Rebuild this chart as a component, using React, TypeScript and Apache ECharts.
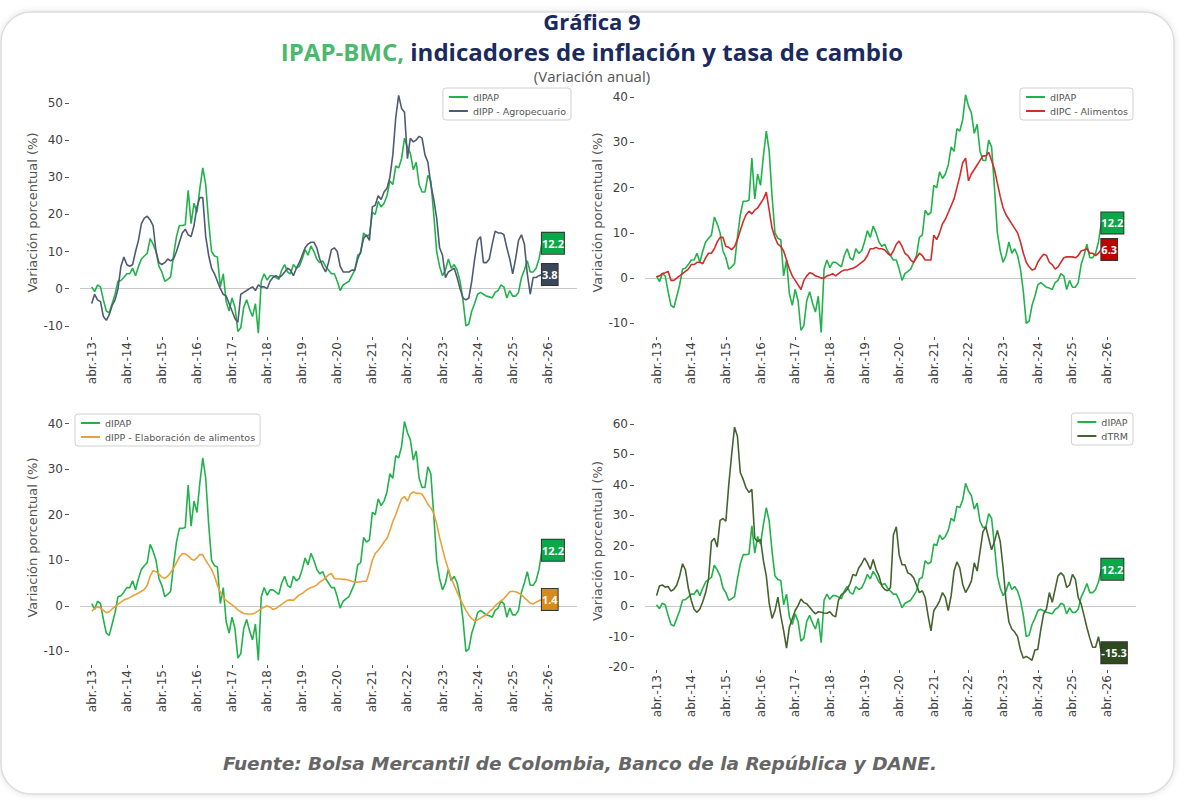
import React, { useEffect, useRef } from 'react';
import * as echarts from 'echarts';

// Monthly data: Apr 2013 ... Feb 2026 (155 points)
const X_TICK_LABELS = ['abr.-13','abr.-14','abr.-15','abr.-16','abr.-17','abr.-18','abr.-19','abr.-20','abr.-21','abr.-22','abr.-23','abr.-24','abr.-25','abr.-26'];
const X_TICK_POS = X_TICK_LABELS.map((_, i) => i * 12);

const DIPAP = [
  0.5, -0.8, 1.0, 0.5, -3, -6, -6.5, -4, -1.5,
  2, 2.2, 3, 4, 4, 5.5, 3.5, 6, 8, 8.8, 9.5, 13.5,
  12, 10, 6, 4.5, 2, 2.5, 3.2, 9, 14, 17, 17, 17.2,
  26.5, 17.5, 23, 20.5, 27, 32.5, 28, 18, 10, 8.8, 8.5, 0.5,
  4, -3.5, -6, -2.5, -5, -11.5, -10.5, -5, -3, -5.5, -7.5, -4,
  -12, 2, 4, 2.3, 3.5, 3.5, 3, 2.5, 5, 6.5, 4.5, 4,
  6.5, 5.5, 6, 8, 10.5, 9, 11.5, 10, 8, 7, 7.5, 6,
  5, 4, 4, 2, -0.5, 1, 1.5, 2, 3.5, 5, 9, 9.5,
  15, 14, 14.5, 20.5, 20, 23.5, 22, 23, 25, 29, 28, 33,
  32.5, 35, 40.5, 38, 36.5, 32, 34, 28, 26, 26, 30.5, 29,
  20, 10, 6, 3.5, 5, 8, 5.5, 6.5, 5, 2, -3, -10,
  -9.5, -6, -4, -1.5, -1, -1.5, -2, -2.2, -2.5, -1, -0.5, 1,
  0.5, -2.5, -0.5, -2, -2, -1, 3, 5, 7.5, 4.5, 4.5, 5.5,
  8, 12.2
];

const DIPP_AGRO = [
  -4, -1.5, -3, -3.5, -7.5, -8.5, -7, -4.5, -3,
  0, 6, 8.5, 6.5, 6, 6.5, 10, 13, 17.5, 19, 19.5, 18.5,
  17, 10, 7, 6.5, 7, 8, 7.5, 8, 10, 12.5, 15, 16,
  14.5, 14, 17, 22, 24.5, 24.5, 14, 9, 5.5, 4, 2, 0,
  -1.5, -2, -4, -6, -8, -9, -1.5, -1, -0.5, 0, 0.5, -0.5,
  1, 0.5, 0.5, 0, 2, 3, 3.5, 3, 3.5, 4.5, 5.5, 5,
  3.5, 5.5, 7, 9, 11, 12, 12.5, 12.5, 11, 8, 6, 4.5,
  7, 10.5, 11, 10, 6, 4.5, 4.5, 4.5, 5, 5, 8, 10,
  13.5, 14.5, 13, 22, 22.5, 25, 24, 26, 27, 30, 36, 46,
  52, 48.5, 47.5, 35, 40.5, 39.5, 40, 41, 40.5, 36, 34, 28,
  24, 19, 11, 9, 3, 4.5, 5, 5.5, 3, 0, -2.5, -3,
  -2.5, 2, 8, 13, 14, 7, 7, 8, 12, 15.5, 15, 15,
  14.5, 11, 8, 4, 8, 13, 14.5, 12, 4, -1.5, 3, 3,
  3.5, 3.8
];

const DIPC_ALIM = [
  0.3, 0.5, 1, 1.2, 1.5, -0.5, -0.5, 0, 0.5,
  1, 1.5, 2, 3, 3, 3.5, 3.5, 3.2, 4.5, 5.5, 5.5, 6.5,
  8, 9, 9, 7, 6.8, 6.3, 7, 8.5, 10.5, 12.5, 14, 14.8,
  14.2, 15, 15.5, 16.5, 17.5, 19, 15, 11, 9, 7.5, 7, 6,
  4, 2, 0.5, -0.5, -1.5, -2.5, -0.5, 0.5, 1.2, 1, 0.5, 0.3,
  0, 0, 0.5, 0.7, 1, 0.5, 1, 1.5, 1.8, 1.8, 2, 2.2,
  2.5, 3, 3.5, 4, 5, 6.5, 6.5, 6.8, 6.5, 6.5, 6.2, 5.5,
  5, 6, 7.5, 8.2, 7, 5.5, 5, 4, 3.5, 4.5, 5.5, 5,
  4, 4, 4, 9.5, 8.5, 10, 12, 13, 14.5, 16, 17.5, 20,
  22.5, 25.5, 26.5, 21.5, 23, 24, 25, 26, 27, 27, 27.8, 26,
  24, 21, 18, 15.5, 14, 13, 12, 11, 10, 8, 5.5, 3.5,
  2.5, 1.8, 2, 3.5, 4.5, 5.3, 5, 3.5, 3, 2, 2.5, 3.5,
  4.5, 4.7, 4.7, 4.7, 4.5, 5, 6, 6.2, 6.5, 5.5, 5.5, 5,
  5.5, 6.3
];

const DIPP_ELAB = [
  -1.2, -0.6, -0.2, -0.5, -1.0, -1.5, -1.3, -0.7, -0.2,
  0.3, 0.8, 1.3, 1.5, 1.8, 2.2, 2.5, 2.8, 3.2, 3.6, 4.5, 6.5,
  7.7, 7.5, 7, 6.3, 6, 6.5, 7.3, 8.3, 9.5, 10.7, 11.5, 11.4,
  11, 10.3, 10, 10.5, 11.3, 11.2, 10, 9, 8, 6.5, 4.5, 3,
  1.8, 1.2, 0.7, 0.2, -0.3, -0.9, -1.3, -1.7, -1.8, -1.8, -1.8, -1.5,
  -1.1, -0.6, -0.3, 0, -0.3, -0.8, -0.6, -0.1, 0.3, 0.8, 1.2, 1.3,
  1.2, 1.8, 2.4, 2.7, 3.2, 3.7, 4, 4.2, 4.6, 5.2, 5.6, 6.2,
  6.8, 7.1, 6, 5.9, 5.9, 5.8, 5.8, 5.6, 5.4, 5.2, 5.2, 5.3,
  5.4, 5.4, 7.5, 10, 11.5, 12.2, 13, 14, 14.8, 16.5, 18.5, 20,
  21.8, 23.5, 24, 23, 24.5, 25, 24.7, 24.7, 24.5, 23.5, 22.3, 21.5,
  20.3, 18, 15, 12.5, 10, 8, 6, 4.5, 3, 1.5, 0.3, -1,
  -2, -2.8, -3.3, -3.1, -2.7, -2.3, -2, -1.3, -0.8, 0, 0.6, 1.1,
  1.6, 2.3, 3.1, 3.2, 3.1, 2.8, 2.4, 1.8, 1.2, 0.6, 0.4, 0.8,
  1.1, 1.4
];

const DTRM = [
  3.5, 6.7, 7, 6.3, 6.5, 5, 5.6, 7, 10,
  14, 12, 6, 2, -1, -2, -0.9, 1.5, 4.5, 9, 21.3, 22.4,
  19.5, 28.3, 28.9, 28, 40, 50, 59, 56, 44, 41.8, 39, 37.5,
  38.5, 22.4, 21.3, 22, 15, 10, 1, -4, -1.5, 3, -3, -8,
  -13.8, -6.8, -4.1, -1.4, 0.2, 2.4, 1.2, 0.8, -0.3, -1.5, -2.5, -1.8,
  -2, -2.2, -2.3, -1.8, -3, -3.5, 2, 3.8, 4.5, 5.5, 7.5, 10.5,
  10, 12.6, 14, 15.9, 14.3, 12.1, 15.4, 12.1, 10, 6.7, 5.5, 5.1,
  6.2, 23.5, 26.2, 17, 13.7, 13.7, 11, 10.5, 9.4, 7, 4.5, 5.1,
  2.9, -3, -8.1, -1.4, 0, 1.8, 4.5, 2.9, -1.4, 3.5, 11.6, 14.6,
  12.6, 7.2, 4.5, 6.2, 8.3, 14.3, 11.6, 18, 24.5, 26.2, 22.4, 18.6,
  21.3, 25, 21.3, 12.6, 1.8, -5.2, -7.5, -8.5, -10, -14.4, -17.1, -16.5,
  -17.1, -17.8, -14.4, -14.2, -7.9, -2.5, -0.9, 4.5, 1.3, 5.6, 10, 11,
  10, 6.2, 7, 10.5, 8.9, 2.9, 0.8, -3, -7, -10.5, -13.5, -13.5,
  -10, -15.3
];

const Y_TICKS_1 = [-10, 0, 10, 20, 30, 40, 50];
const Y_TICKS_2 = [-10, 0, 10, 20, 30, 40];
const Y_TICKS_3 = [-10, 0, 10, 20, 30, 40];
const Y_TICKS_4 = [-20, -10, 0, 10, 20, 30, 40, 50, 60];

const FONT = 'DejaVu Sans';
const C_IPAP = '#22b24c';
const C_AGRO = '#4f5b6e';
const C_ALIM = '#d42b2b';
const C_ELAB = '#e9a23b';
const C_TRM = '#45632f';

const toXY = (arr: number[]) => arr.map((v, i) => [i, v]);

function lineSeries(name: string, arr: number[], color: string, box: string, idx: number, z: number, zero: boolean) {
  const s: any = {
    type: 'line',
    name,
    data: toXY(arr),
    xAxisIndex: idx,
    yAxisIndex: idx,
    showSymbol: false,
    symbol: 'none',
    z,
    lineStyle: { color, width: 1.6 },
    itemStyle: { color },
    endLabel: {
      show: true,
      formatter: (p: any) => Number(p.value[1]).toFixed(1),
      backgroundColor: box,
      color: '#fff',
      fontWeight: 'bold',
      fontSize: 11,
      fontFamily: 'Open Sans',
      padding: [5, 0, 5, 0],
      borderColor: '#333',
      borderWidth: 1,
      distance: 0,
    },
  };
  if (zero) {
    s.markLine = {
      silent: true,
      symbol: 'none',
      z: 1,
      label: { show: false },
      lineStyle: { color: '#c9c9c9', width: 1, type: 'solid' },
      data: [[{ coord: [-4, 0] }, { coord: [166, 0] }]],
    };
  }
  return s;
}

function xAxis(idx: number) {
  return {
    type: 'value',
    gridIndex: idx,
    min: -4,
    max: 166,
    axisLine: { show: false, onZero: false },
    splitLine: { show: false },
    axisTick: { show: true, length: 3, customValues: X_TICK_POS, lineStyle: { color: '#555' } },
    axisLabel: {
      customValues: X_TICK_POS,
      rotate: 90,
      margin: 5,
      color: '#3f3f3f',
      fontSize: 12,
      fontFamily: FONT,
      formatter: (v: number) => X_TICK_LABELS[Math.round(v / 12)] || '',
    },
  };
}

function yAxis(idx: number, min: number, max: number, ticks: number[]) {
  return {
    type: 'value',
    gridIndex: idx,
    min,
    max,
    offset: 11,
    name: 'Variación porcentual (%)',
    nameLocation: 'middle',
    nameGap: 30,
    nameTextStyle: { color: '#555', fontSize: 13, fontFamily: FONT },
    axisLine: { show: false, onZero: false },
    splitLine: { show: false },
    axisTick: { show: true, length: 4, customValues: ticks, lineStyle: { color: '#555' } },
    axisLabel: { customValues: ticks, margin: 6, color: '#3f3f3f', fontSize: 12, fontFamily: FONT },
  };
}

function legend(names: string[], pos: any) {
  return {
    ...pos,
    orient: 'vertical',
    data: names,
    icon: 'rect',
    itemWidth: 19,
    itemHeight: 2,
    itemGap: 4,
    padding: [4, 5, 4, 6],
    backgroundColor: '#fff',
    borderColor: '#d0d0d0',
    borderWidth: 1,
    borderRadius: 3,
    textStyle: { fontSize: 9.5, color: '#555', fontFamily: FONT },
    selectedMode: false,
  };
}

export default function App() {
  const ref = useRef<HTMLDivElement>(null);
  useEffect(() => {
    if (!ref.current) return;
    const chart = echarts.init(ref.current, null, { renderer: 'svg' });
    const option: any = {
      animation: false,
      backgroundColor: '#ffffff',
      graphic: [
        {
          type: 'rect',
          z: -10,
          shape: { x: 1, y: 12, width: 1173, height: 782, r: 30 },
          style: { fill: '#ffffff', stroke: '#dcdcdc', lineWidth: 1.5, shadowBlur: 6, shadowColor: 'rgba(0,0,0,0.12)' },
        },
      ],
      title: [
        {
          text: 'Gráfica 9',
          left: 'center',
          top: 5,
          textStyle: { color: '#1b2a5e', fontSize: 22, fontWeight: 'bold', fontFamily: 'Open Sans' },
        },
        {
          text: '{g|IPAP-BMC,}{n| indicadores de inflación y tasa de cambio}',
          left: 'center',
          top: 34,
          textStyle: {
            rich: {
              g: { color: '#4cb86c', fontSize: 24, fontWeight: 'bold', fontFamily: 'Open Sans' },
              n: { color: '#1b2a5e', fontSize: 24, fontWeight: 'bold', fontFamily: 'Open Sans' },
            },
          },
        },
        {
          text: '(Variación anual)',
          left: 'center',
          top: 63,
          textStyle: { color: '#555', fontSize: 15, fontWeight: 'normal', fontFamily: 'Open Sans' },
        },
        {
          text: 'Fuente: Bolsa Mercantil de Colombia, Banco de la República y DANE.',
          left: 575,
          textAlign: 'center',
          top: 749,
          textStyle: { color: '#666', fontSize: 18.5, fontWeight: 'bold', fontStyle: 'italic', fontFamily: 'DejaVu Sans' },
        },
      ],
      grid: [
        { left: 80, top: 88, width: 497, height: 249, containLabel: false },
        { left: 645, top: 88, width: 491, height: 249, containLabel: false },
        { left: 80, top: 410, width: 497, height: 255, containLabel: false },
        { left: 645, top: 412, width: 491, height: 258, containLabel: false },
      ],
      xAxis: [xAxis(0), xAxis(1), xAxis(2), xAxis(3)],
      yAxis: [
        yAxis(0, -13, 54, Y_TICKS_1),
        yAxis(1, -13, 42, Y_TICKS_2),
        yAxis(2, -13, 43, Y_TICKS_3),
        yAxis(3, -21, 64, Y_TICKS_4),
      ],
      legend: [
        legend(['dIPAP', 'dIPP - Agropecuario'], { right: 613, top: 88 }),
        legend(['dIPAP', 'dIPC - Alimentos'], { right: 51, top: 88 }),
        legend(['dIPAP', 'dIPP - Elaboración de alimentos'], { left: 75, top: 414 }),
        legend(['dIPAP', 'dTRM'], { right: 51, top: 413 }),
      ],
      series: [
        lineSeries('dIPAP', DIPAP, C_IPAP, '#0aa84a', 0, 2, true),
        lineSeries('dIPP - Agropecuario', DIPP_AGRO, C_AGRO, '#3b4759', 0, 3, false),
        lineSeries('dIPAP', DIPAP, C_IPAP, '#0aa84a', 1, 2, true),
        lineSeries('dIPC - Alimentos', DIPC_ALIM, C_ALIM, '#c00000', 1, 3, false),
        lineSeries('dIPAP', DIPAP, C_IPAP, '#0aa84a', 2, 2, true),
        lineSeries('dIPP - Elaboración de alimentos', DIPP_ELAB, C_ELAB, '#d88b1c', 2, 3, false),
        lineSeries('dIPAP', DIPAP, C_IPAP, '#0aa84a', 3, 2, true),
        lineSeries('dTRM', DTRM, C_TRM, '#2f4a1f', 3, 3, false),
      ],
    };
    chart.setOption(option);
    return () => chart.dispose();
  }, []);
  return (
    <div
      ref={ref}
      style={{ position: 'fixed', left: 0, top: 0, width: 1184, height: 800, background: '#fff' }}
    />
  );
}
